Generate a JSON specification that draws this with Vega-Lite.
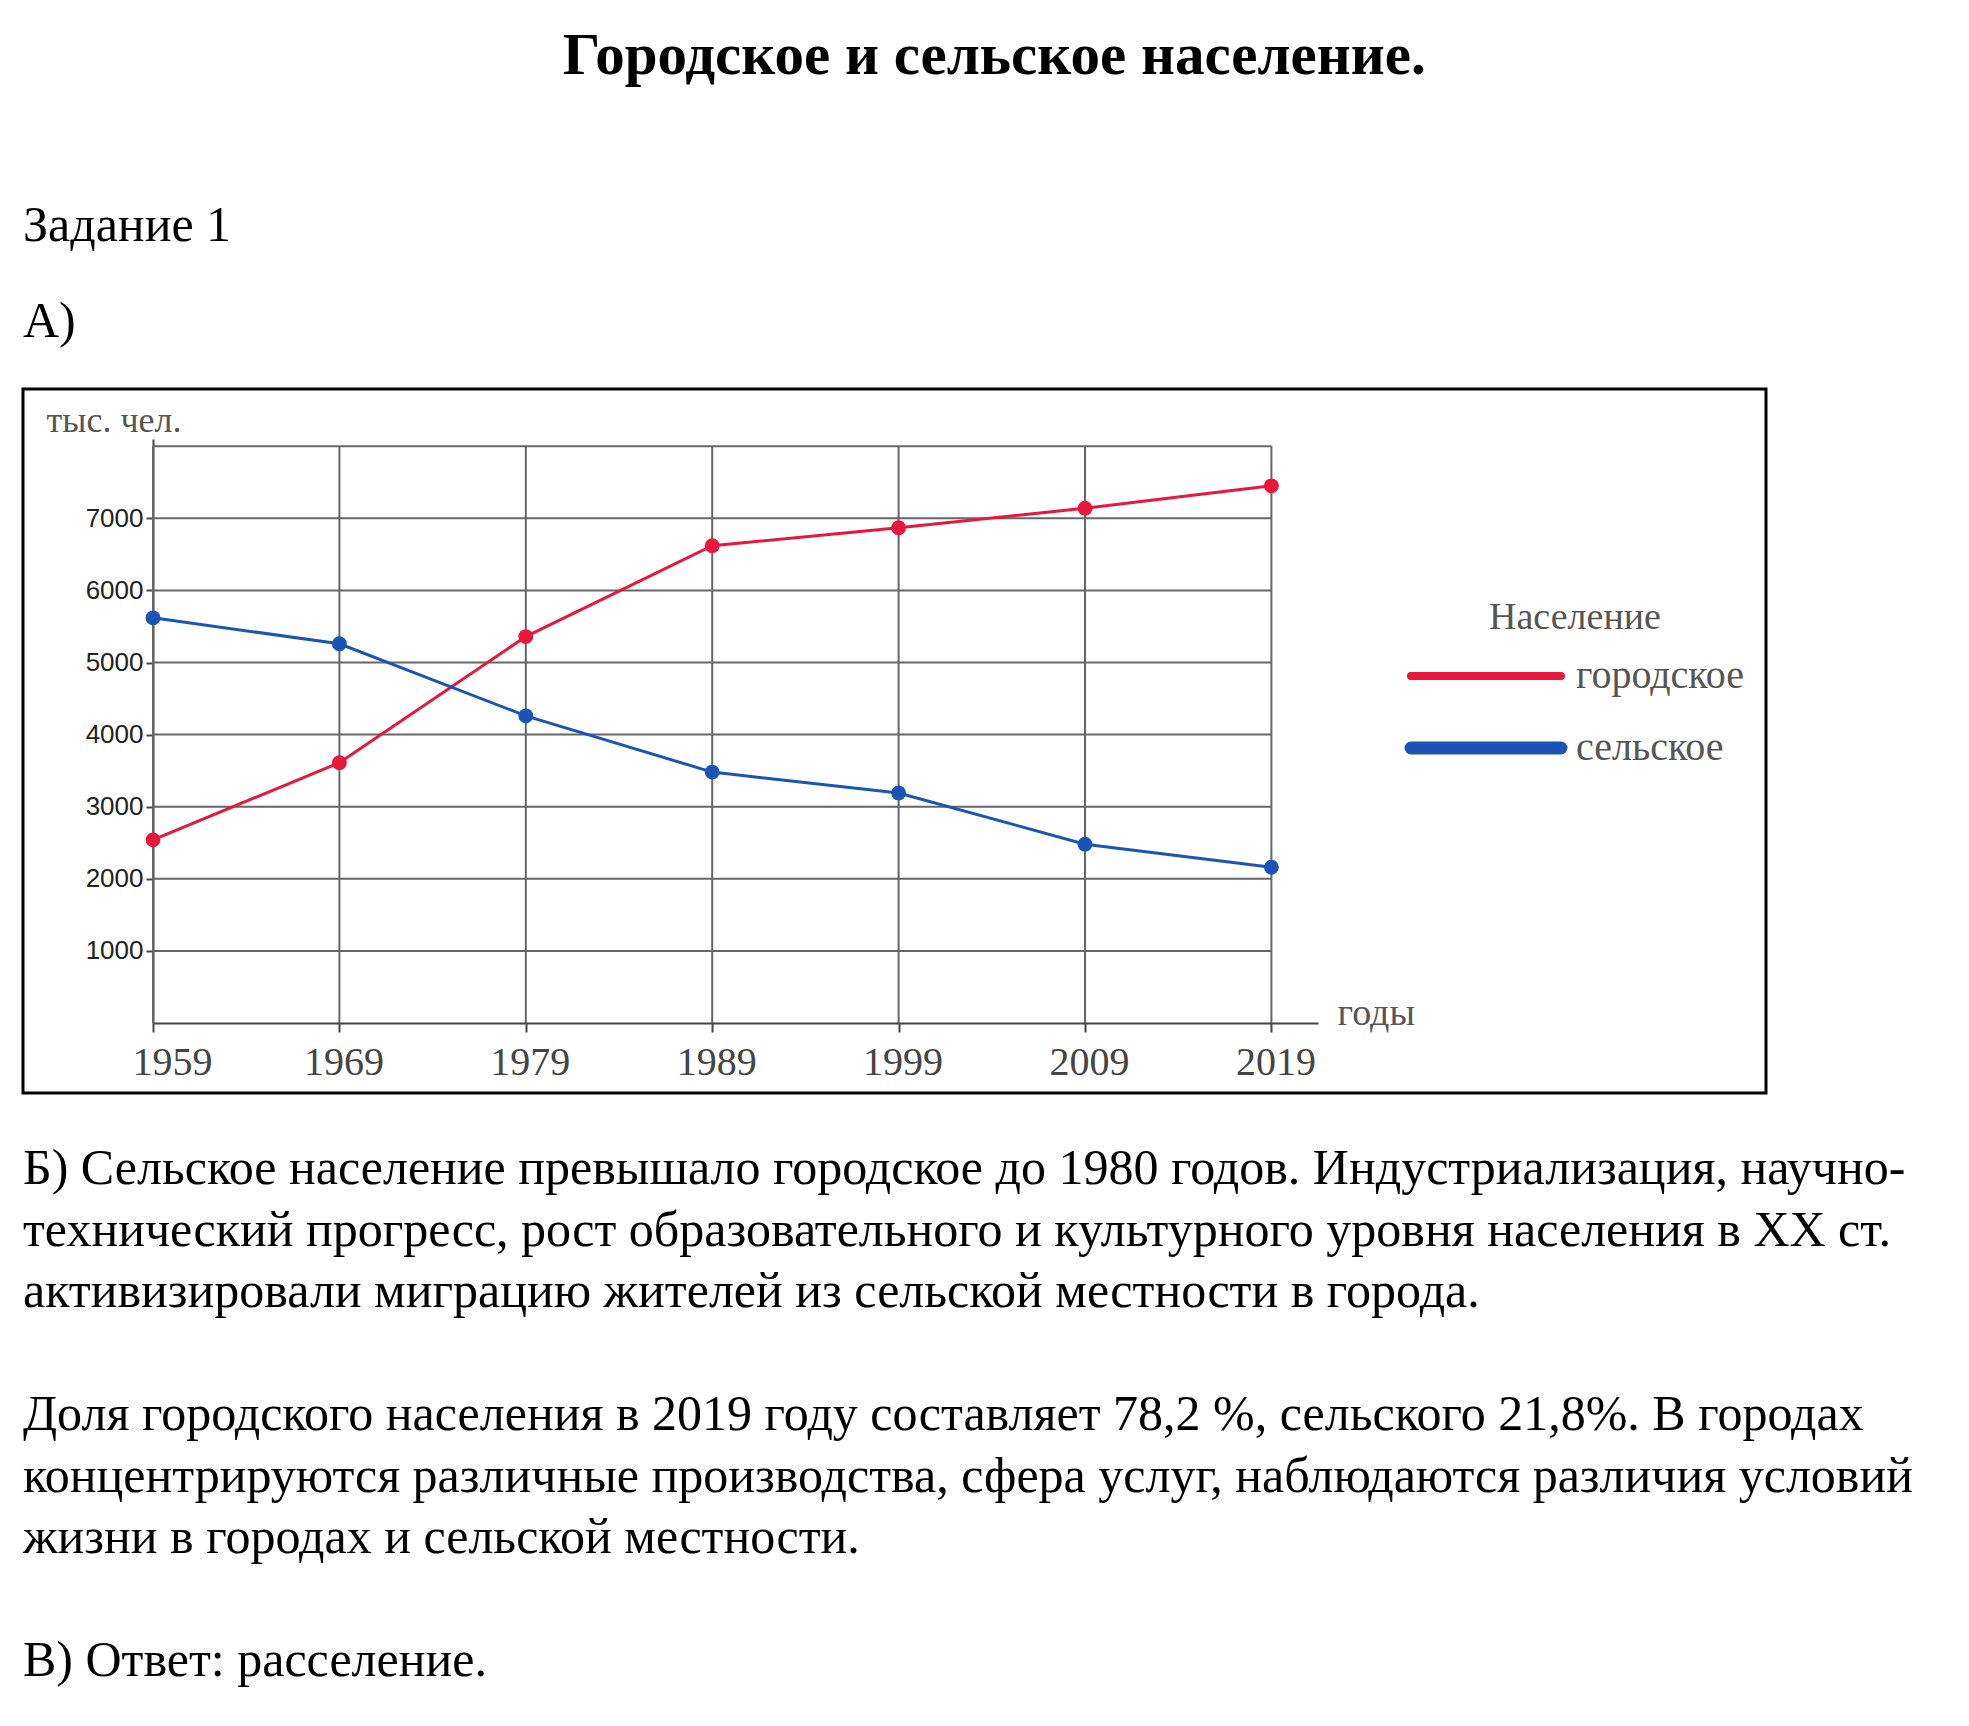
{
  "$schema": "https://vega.github.io/schema/vega-lite/v6.json",
  "padding": {"left": 21, "top": 27, "right": 0, "bottom": 0},
  "background": "white",
  "title": {"text": "Городское и сельское население.", "font": "Liberation Serif", "fontSize": 59, "fontWeight": "bold", "color": "black", "anchor": "middle", "offset": 44},
  "bounds": "flush",
  "spacing": 0,
  "datasets": {
    "pop": [
      {"year": 1959, "type": "городское", "population": 2540},
      {"year": 1969, "type": "городское", "population": 3610},
      {"year": 1979, "type": "городское", "population": 5360},
      {"year": 1989, "type": "городское", "population": 6620},
      {"year": 1999, "type": "городское", "population": 6870},
      {"year": 2009, "type": "городское", "population": 7140},
      {"year": 2019, "type": "городское", "population": 7450},
      {"year": 1959, "type": "сельское", "population": 5620},
      {"year": 1969, "type": "сельское", "population": 5260},
      {"year": 1979, "type": "сельское", "population": 4260},
      {"year": 1989, "type": "сельское", "population": 3480},
      {"year": 1999, "type": "сельское", "population": 3190},
      {"year": 2009, "type": "сельское", "population": 2480},
      {"year": 2019, "type": "сельское", "population": 2160}
    ],
    "vgrid": [{"year": 1959}, {"year": 1969}, {"year": 1979}, {"year": 1989}, {"year": 1999}, {"year": 2009}, {"year": 2019}],
    "hgrid": [{"value": 1000}, {"value": 2000}, {"value": 3000}, {"value": 4000}, {"value": 5000}, {"value": 6000}, {"value": 7000}, {"value": 8000}],
    "head": [
      {"line": 0, "text": "Задание 1"},
      {"line": 1, "text": "А)"}
    ],
    "body": [
      {"line": 0, "text": "Б) Сельское население превышало городское до 1980 годов. Индустриализация, научно-"},
      {"line": 1, "text": "технический прогресс, рост образовательного и культурного уровня населения в XX ст."},
      {"line": 2, "text": "активизировали миграцию жителей из сельской местности в города."},
      {"line": 4, "text": "Доля городского населения в 2019 году составляет 78,2 %, сельского 21,8%. В городах"},
      {"line": 5, "text": "концентрируются различные производства, сфера услуг, наблюдаются различия условий"},
      {"line": 6, "text": "жизни в городах и сельской местности."},
      {"line": 8, "text": "В) Ответ: расселение."}
    ]
  },
  "vconcat": [
    {
      "width": 1944,
      "height": 259,
      "data": {"name": "head"},
      "mark": {"type": "text", "font": "Liberation Serif", "fontSize": 50, "align": "left", "baseline": "alphabetic", "color": "black"},
      "encoding": {
        "text": {"field": "text"},
        "x": {"value": 0},
        "y": {"field": "line", "type": "quantitative", "scale": {"domain": [0, 1], "range": [111, 207]}, "axis": null}
      }
    },
    {
      "width": 1743,
      "height": 704,
      "view": {"stroke": "black", "strokeWidth": 3, "fill": "white"},
      "layer": [
        {
          "data": {"name": "vgrid"},
          "mark": {"type": "rule", "color": "#666666", "strokeWidth": 2},
          "encoding": {
            "x": {"field": "year", "type": "quantitative"},
            "y": {"datum": 0, "type": "quantitative"},
            "y2": {"datum": 8000}
          }
        },
        {
          "data": {"name": "hgrid"},
          "mark": {"type": "rule", "color": "#666666", "strokeWidth": 2},
          "encoding": {
            "y": {"field": "value", "type": "quantitative"},
            "x": {"datum": 1959, "type": "quantitative"},
            "x2": {"datum": 2019}
          }
        },
        {
          "data": {"name": "pop"},
          "mark": {"type": "line", "strokeWidth": 3, "point": {"filled": true, "size": 220}},
          "encoding": {
            "x": {
              "field": "year", "type": "quantitative",
              "scale": {"domain": [1959, 2021.5], "range": [130, 1295], "nice": false, "zero": false},
              "axis": {
                "values": [1959, 1969, 1979, 1989, 1999, 2009, 2019], "format": "d", "offset": -70, "grid": false,
                "domainColor": "#444444", "domainWidth": 2, "tickColor": "#444444", "tickWidth": 2, "tickSize": 9,
                "labelFont": "Liberation Serif", "labelFontSize": 40, "labelColor": "#444444", "labelPadding": 10,
                "labelFlush": false, "labelOverlap": false,
                "labelOffset": {"condition": {"test": "datum.value === 1959", "value": 19}, "value": 4},
                "title": "годы", "titleFont": "Liberation Serif", "titleFontSize": 38, "titleFontWeight": "normal", "titleColor": "#555555",
                "titleX": 1314, "titleY": -10, "titleAlign": "left", "titleBaseline": "middle", "titleAngle": 0
              }
            },
            "y": {
              "field": "population", "type": "quantitative",
              "scale": {"domain": [0, 8100], "range": [634, 50], "nice": false},
              "axis": {
                "values": [1000, 2000, 3000, 4000, 5000, 6000, 7000], "format": "d", "offset": -130, "grid": false,
                "domainColor": "#444444", "domainWidth": 2, "tickColor": "#444444", "tickWidth": 2, "tickSize": 7,
                "labelFont": "Liberation Sans", "labelFontSize": 26, "labelColor": "#222222", "labelPadding": 3,
                "title": "тыс. чел.", "titleFont": "Liberation Serif", "titleFontSize": 36, "titleFontWeight": "normal", "titleColor": "#555555",
                "titleAngle": 0, "titleAlign": "left", "titleBaseline": "alphabetic", "titleX": -107, "titleY": 42
              }
            },
            "color": {
              "field": "type", "type": "nominal",
              "scale": {"domain": ["городское", "сельское"], "range": ["#e8173c", "#1a55b5"]},
              "legend": {
                "orient": "none", "legendX": 1383, "legendY": 469, "direction": "vertical",
                "title": "Население", "titleFont": "Liberation Serif", "titleFontSize": 38, "titleFontWeight": "normal", "titleColor": "#555555",
                "titleAnchor": "middle", "titlePadding": 19,
                "symbolType": "M-5,0H5", "symbolSize": 900, "symbolStrokeWidth": 9, "symbolOffset": 60,
                "labelFont": "Liberation Serif", "labelFontSize": 40, "labelColor": "#555555", "labelOffset": 70, "labelLimit": 400,
                "rowPadding": 26,
                "encode": {"symbols": {"update": {"strokeWidth": {"signal": "datum.value === 'сельское' ? 13 : 8"}, "strokeCap": {"value": "round"}}}}
              }
            }
          }
        }
      ]
    },
    {
      "width": 1944,
      "height": 633,
      "data": {"name": "body"},
      "mark": {"type": "text", "font": "Liberation Serif", "fontSize": 50, "align": "left", "baseline": "alphabetic", "color": "black"},
      "encoding": {
        "text": {"field": "text"},
        "x": {"value": 0},
        "y": {"field": "line", "type": "quantitative", "scale": {"domain": [0, 8], "range": [91, 583]}, "axis": null}
      }
    }
  ],
  "config": {
    "view": {"stroke": null}
  }
}
